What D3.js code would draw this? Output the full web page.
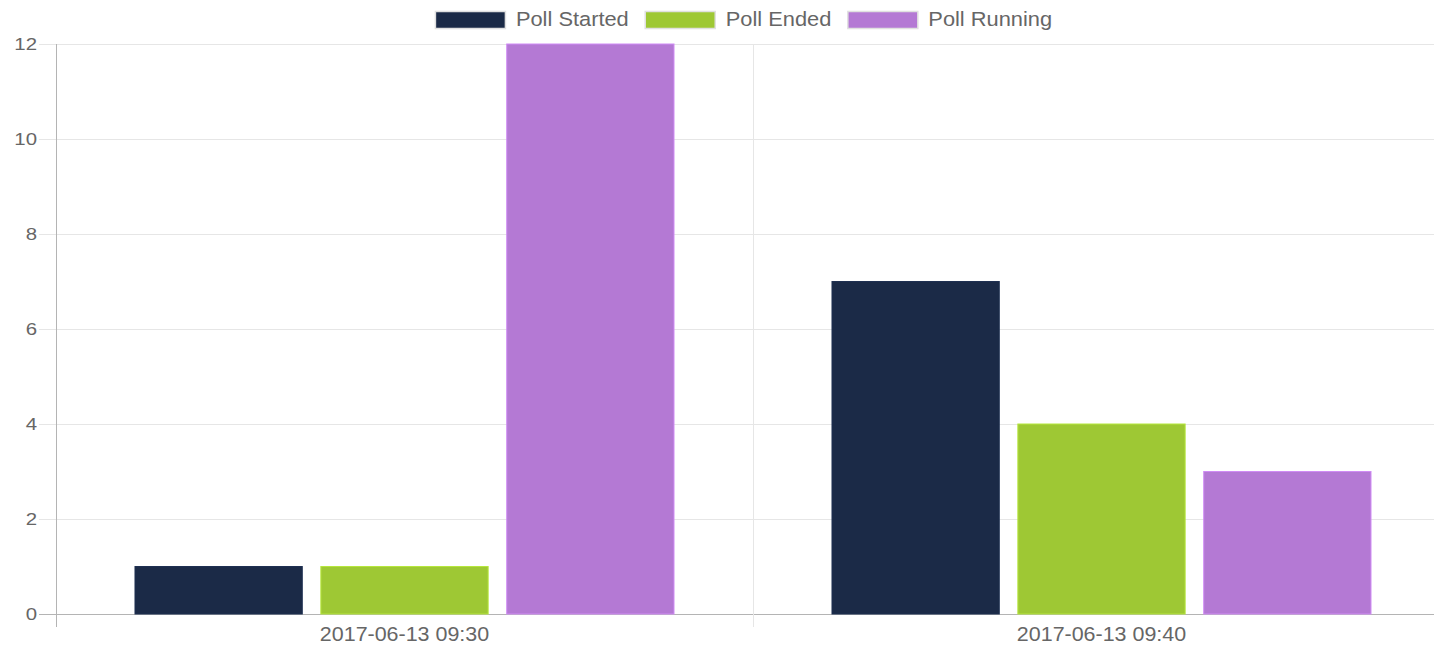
<!DOCTYPE html>
<html>
<head>
<meta charset="utf-8">
<script src="https://cdnjs.cloudflare.com/ajax/libs/d3/7.8.5/d3.min.js"></script>
<style>
    html, body { margin: 0; padding: 0; background: #fff; }
    svg { display: block; font-family: "Liberation Sans", Arial, sans-serif; }
</style>
</head>
<body>
<svg id="chart" width="1434" height="646"></svg>
<script>
var categories = ['2017-06-13 09:30', '2017-06-13 09:40'];
var seriesNames = ['Poll Started', 'Poll Ended', 'Poll Running'];
var seriesColors = ['#1b2a47', '#9ec834', '#b479d4'];
var pollStarted = [1, 7];
var pollEnded = [1, 4];
var pollRunning = [12, 3];
var yTicks = [0, 2, 4, 6, 8, 10, 12];

var values = [pollStarted, pollEnded, pollRunning];

var svg = d3.select('#chart');
// note: "top" is taken by window.top, so keep plot bounds prefixed
var plotLeft = 56, plotRight = 1450, plotTop = 44, plotBottom = 614;
var sxTick = 1.2, sxLabel = 1.1, sxLegend = 1.12;

var x = d3.scaleBand().domain(categories).range([plotLeft, plotRight]);
var y = d3.scaleLinear().domain([0, 12]).range([plotBottom, plotTop]);

// horizontal grid + y labels
var grid = svg.append('g');
yTicks.forEach(function (t) {
    var yy = Math.round(y(t)) + 0.5;
    grid.append('line')
        .attr('x1', 39).attr('x2', plotRight)
        .attr('y1', yy).attr('y2', yy)
        .style('stroke', t === 0 ? '#b4b4b4' : '#e6e6e6').style('stroke-width', 1);
    svg.append('text')
        .attr('transform', 'translate(37,' + (y(t) + 6) + ') scale(' + sxTick + ',1)')
        .attr('text-anchor', 'end')
        .style('font-size', '17px').style('fill', '#666')
        .text(t);
});

// vertical grid at category borders
var borders = [plotLeft, plotLeft + x.bandwidth(), plotRight];
borders.forEach(function (b, i) {
    var xx = Math.round(b) + 0.5;
    grid.append('line')
        .attr('x1', xx).attr('x2', xx)
        .attr('y1', plotTop).attr('y2', 627)
        .style('stroke', i === 0 ? '#b4b4b4' : '#e6e6e6').style('stroke-width', 1);
});

// bars, chart.js style: 80% of the category, 90% of each bar slot
var bars = svg.append('g');
seriesNames.forEach(function (name, si) {
    categories.forEach(function (cat, ci) {
        var bw = x.bandwidth() * 0.8 / 3;
        var x0 = x(cat) + x.bandwidth() * 0.1 + si * bw + bw * 0.05;
        bars.append('rect')
            .attr('x', x0)
            .attr('y', y(values[si][ci]))
            .attr('width', bw * 0.9)
            .attr('height', y(0) - y(values[si][ci]))
            .style('fill', seriesColors[si])
            .style('stroke', d3.color(seriesColors[si]).brighter(0.4))
            .style('stroke-width', 1);
    });
});

// x labels
categories.forEach(function (cat) {
    svg.append('text')
        .attr('transform', 'translate(' + (x(cat) + x.bandwidth() / 2) + ',641) scale(' + sxLabel + ',1)')
        .attr('text-anchor', 'middle')
        .style('font-size', '19.5px').style('fill', '#666')
        .text(cat);
});

// legend
var legend = svg.append('g');
var items = [];
var totalWidth = 0;
seriesNames.forEach(function (name, i) {
    var g = legend.append('g');
    g.append('rect')
        .attr('x', 0.5).attr('y', 11.5).attr('width', 70).attr('height', 17)
        .style('fill', seriesColors[i])
        .style('stroke', '#e0e0e0').style('stroke-width', 1.5);
    var t = g.append('text')
        .attr('transform', 'translate(81,25.5) scale(' + sxLegend + ',1)')
        .style('font-size', '19.5px').style('fill', '#666')
        .text(name);
    var w = 81 + t.node().getComputedTextLength() * sxLegend;
    items.push({ g: g, w: w });
    totalWidth += w;
});
var gap = 16;
totalWidth += gap * (items.length - 1);
var lx = 743.5 - totalWidth / 2;
items.forEach(function (it) {
    it.g.attr('transform', 'translate(' + lx + ',0)');
    lx += it.w + gap;
});
</script>
</body>
</html>
